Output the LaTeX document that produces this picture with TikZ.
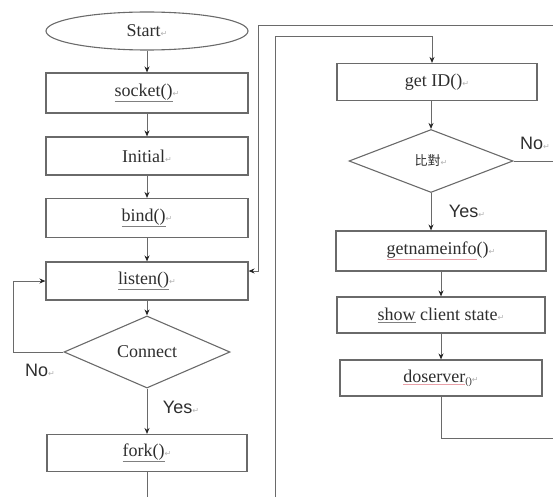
\documentclass[tikz,border=0pt]{standalone}
\usepackage{fontspec}
\setmainfont{Liberation Serif}
\newfontfamily\arialf{Liberation Sans}
\newfontfamily\cjkf{Noto Sans CJK TC}
\newfontfamily\djvf{DejaVu Sans}
\usetikzlibrary{shapes.geometric,arrows.meta}
\definecolor{txt}{HTML}{2E2E2E}
\definecolor{ln}{HTML}{6A6A6A}
\definecolor{wavy}{HTML}{E8A0A8}
\newcommand\pmk{{\djvf\color{gray!60}\fontsize{8}{8}\selectfont ↵}}
\newcommand\ulx[2]{\textcolor{#1}{\underline{\textcolor{txt}{#2}}}}
\begin{document}
\begin{tikzpicture}[x=1pt,y=-1pt,
  every node/.style={text=txt},
  box/.style={draw=ln, line width=1.1pt, rectangle, inner sep=0pt,
    font=\fontsize{18}{18}\selectfont},
  term/.style={box, ellipse},
  dec/.style={box, diamond, inner sep=0pt},
  lbl/.style={font=\arialf\fontsize{18}{18}\selectfont},
  ln/.style={draw=ln, line width=1pt},
  arr/.style={ln, -{Stealth[length=6pt,width=5pt,color=black!85]}}]
\useasboundingbox (0,0) rectangle (553,497);
% left column
\node[term, minimum width=202pt, minimum height=38pt] (start) at (147,31) {Start\pmk};
\node[box, minimum width=202pt, minimum height=40pt] (socket) at (147,93) {\ulx{gray}{socket()}\pmk};
\node[box, minimum width=202pt, minimum height=38pt] (initial) at (147,156) {Initial\pmk};
\node[box, minimum width=202pt, minimum height=39pt] (bind) at (147,218) {\ulx{gray}{bind()}\pmk};
\node[box, minimum width=202pt, minimum height=38pt] (listen) at (147,281) {\ulx{gray}{listen()}\pmk};
\node[dec, minimum width=166pt, minimum height=60pt] (conn) at (147,352) {Connect};
\node[box, minimum width=200pt, minimum height=37pt] (fork) at (147,453) {\ulx{gray}{fork()}\pmk};
\node[lbl] (nol) at (40,370) {No\pmk};
\node[lbl] (yesl) at (181,407) {Yes\pmk};
% right column
\node[box, minimum width=200pt, minimum height=37pt] (getid) at (437,82) {get ID()\pmk};
\node[dec, minimum width=164pt, minimum height=63pt] (cmp) at (431,161) {{\cjkf\fontsize{13}{13}\selectfont 比對}\pmk};
\node[box, minimum width=210pt, minimum height=40pt] (getname) at (441,251) {\ulx{wavy}{getnameinfo}()\pmk};
\node[box, minimum width=208pt, minimum height=36pt] (show) at (441,315) {\ulx{gray}{show} client state\pmk};
\node[box, minimum width=202pt, minimum height=36pt] (dosrv) at (441,378) {\ulx{wavy}{doserver}\raisebox{-2pt}{\fontsize{10}{10}\selectfont()}\pmk};
\node[lbl] (nor) at (535,143) {No\pmk};
\node[lbl] (yesr) at (467,211) {Yes\pmk};
% free ends
\coordinate (lb) at (13,352);
\coordinate (rt) at (553,26);
\coordinate (rk) at (258,271);
\coordinate (fb) at (147,497);
\coordinate (ib) at (275,497);
\coordinate (it) at (432,37);
\coordinate (ce) at (553,161);
\coordinate (de) at (553,438);
% left connectors
\draw[arr] (start) -- (socket);
\draw[arr] (socket) -- (initial);
\draw[arr] (initial) -- (bind);
\draw[arr] (bind) -- (listen);
\draw[arr] (listen) -- (conn);
\draw[arr] (conn) -- (fork);
\draw[arr] (conn.west) -- (lb) |- (listen.west);
\draw[ln] (fork.south) -- (fb);
% right connectors
\draw[arr] (ib) |- (it) -- (it |- getid.north);
\draw[arr] (getid.south -| cmp) -- (cmp.north);
\draw[arr] (cmp.south) -- (cmp.south |- getname.north);
\draw[arr] (getname) -- (show);
\draw[arr] (show) -- (dosrv);
\draw[ln] (cmp.east) -- (ce);
\draw[ln] (dosrv.south) |- (de);
\draw[arr] (rt) -| (rk) -- (listen.east |- rk);
\end{tikzpicture}
\end{document}
